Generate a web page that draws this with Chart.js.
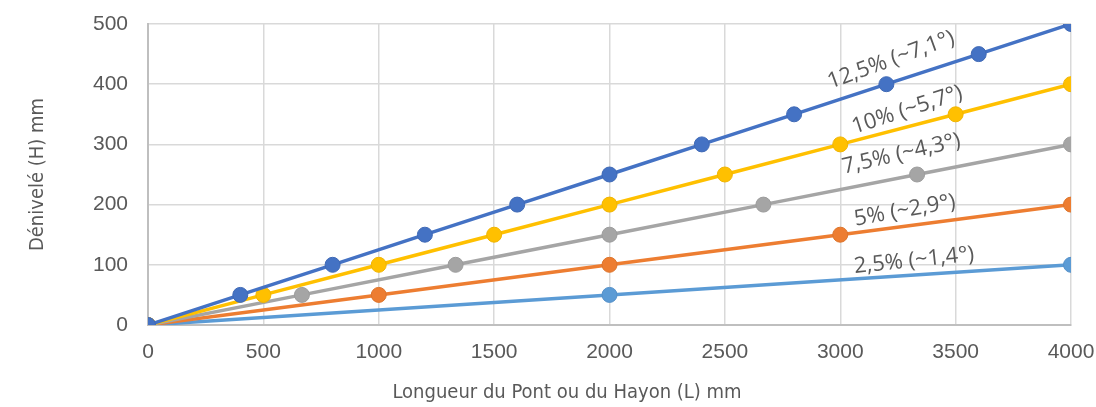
<!DOCTYPE html>
<html>
<head>
<meta charset="utf-8">
<script src="https://cdn.jsdelivr.net/npm/chart.js@4"></script>
<style>
html,body{margin:0;padding:0;background:#fff;}
#wrap{width:1096px;height:407px;position:relative;}
</style>
</head>
<body>
<div id="wrap"><canvas id="c"></canvas></div>
<script>
// Data
const seriesNames = ["12,5% (~7,1°)", "10% (~5,7°)", "7,5% (~4,3°)", "5% (~2,9°)", "2,5% (~1,4°)"];
const x125 = [0, 400, 800, 1200, 1600, 2000, 2400, 2800, 3200, 3600, 4000];
const y125 = [0, 50, 100, 150, 200, 250, 300, 350, 400, 450, 500];
const x10 = [0, 500, 1000, 1500, 2000, 2500, 3000, 3500, 4000];
const y10 = [0, 50, 100, 150, 200, 250, 300, 350, 400];
const x75 = [0, 667, 1333, 2000, 2667, 3333, 4000];
const y75 = [0, 50, 100, 150, 200, 250, 300];
const x5 = [0, 1000, 2000, 3000, 4000];
const y5 = [0, 50, 100, 150, 200];
const x25 = [0, 2000, 4000];
const y25 = [0, 50, 100];
const xTicks = [0, 500, 1000, 1500, 2000, 2500, 3000, 3500, 4000];
const yTicks = [0, 100, 200, 300, 400, 500];
const xTitle = "Longueur du Pont ou du Hayon (L) mm";
const yTitle = "Dénivelé (H) mm";

const colors = ["#4472C4", "#FFC000", "#A5A5A5", "#ED7D31", "#5B9BD5"];
const edge = ["#3F69B5", "#F0B400", "#9C9C9C", "#DC742C", "#5590C8"];
const xs = [x125, x10, x75, x5, x25];
const ys = [y125, y10, y75, y5, y25];

// label anchor (data coords) and rotation (deg) for the in-plot series labels
const labelX = [3220, 3290, 3265, 3280, 3320];
const labelY = [440, 357, 284, 190, 107];
const labelRot = [-20, -18, -13, -10, -6];

const datasets = seriesNames.map((n, i) => ({
  label: n,
  data: xs[i].map((x, j) => ({x: x, y: ys[i][j]})),
  borderColor: colors[i],
  backgroundColor: colors[i],
  pointBackgroundColor: colors[i],
  pointBorderColor: edge[i],
  borderWidth: 3.5,
  pointRadius: 7.5,
  pointBorderWidth: 1,
  tension: 0
}));

const labelPlugin = {
  id: 'seriesLabels',
  afterDatasetsDraw(chart) {
    const ctx = chart.ctx;
    const xs_ = chart.scales.x, ys_ = chart.scales.y;
    ctx.save();
    ctx.font = '22px "Open Sans"';
    ctx.fillStyle = '#595959';
    ctx.textAlign = 'center';
    ctx.textBaseline = 'middle';
    seriesNames.forEach((n, i) => {
      const px = xs_.getPixelForValue(labelX[i]);
      const py = ys_.getPixelForValue(labelY[i]);
      ctx.save();
      ctx.translate(px, py);
      ctx.rotate(labelRot[i] * Math.PI / 180);
      ctx.fillText(n, 0, 0);
      ctx.restore();
    });
    // x axis title (offset left of plot centre, as in the original)
    ctx.font = '20px "DejaVu Sans Condensed", "DejaVu Sans"';
    ctx.textAlign = 'center';
    ctx.textBaseline = 'middle';
    ctx.fillText(xTitle, 567, 393);
    ctx.restore();
  }
};

new Chart(document.getElementById('c'), {
  type: 'line',
  data: {datasets},
  plugins: [labelPlugin],
  options: {
    responsive: true,
    maintainAspectRatio: false,
    animation: false,
    layout: {padding: {left: 0, right: 25, top: 24, bottom: 0}},
    plugins: {legend: {display: false}, tooltip: {enabled: false}},
    scales: {
      x: {
        type: 'linear', min: 0, max: 4000,
        afterBuildTicks: s => { s.ticks = xTicks.map(v => ({value: v})); },
        afterFit: s => { s.height = 82; s.paddingLeft = 0; s.paddingRight = 0; },
        grid: {color: '#d9d9d9', lineWidth: 1.5, tickLength: 0, drawTicks: false},
        border: {color: '#bfbfbf', width: 2},
        ticks: {color: '#595959', font: {family: '"Liberation Sans", Arial', size: 21}, padding: 15, maxRotation: 0, callback: v => String(v)},
        title: {display: false}
      },
      y: {
        type: 'linear', min: 0, max: 500,
        afterBuildTicks: s => { s.ticks = yTicks.map(v => ({value: v})); },
        afterFit: s => { s.width = 148; s.paddingTop = 0; s.paddingBottom = 0; },
        grid: {color: '#d9d9d9', lineWidth: 1.5, tickLength: 0, drawTicks: false},
        border: {color: '#bfbfbf', width: 2},
        ticks: {color: '#595959', font: {family: '"Liberation Sans", Arial', size: 21}, padding: 20, callback: v => String(v)},
        title: {display: true, text: yTitle, color: '#595959', font: {family: '"DejaVu Sans Condensed", "DejaVu Sans"', size: 20}, padding: {top: 26, bottom: 0}}
      }
    }
  }
});
</script>
</body>
</html>
